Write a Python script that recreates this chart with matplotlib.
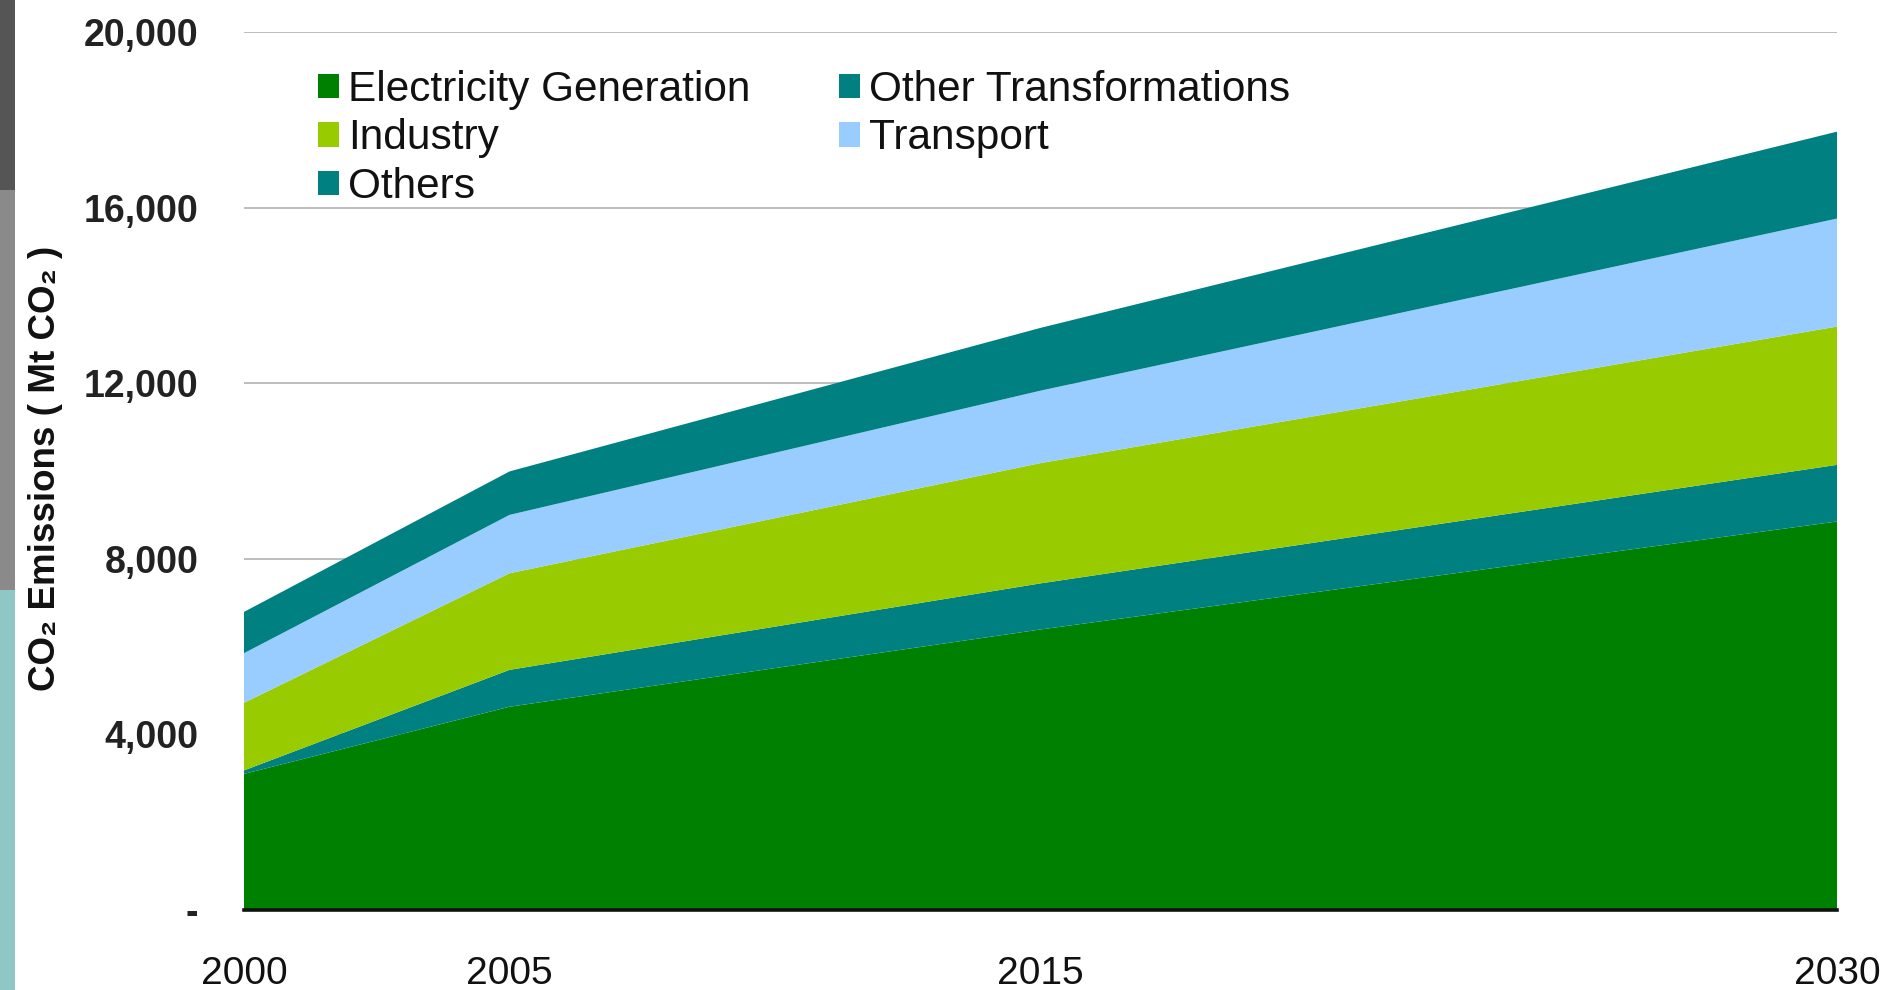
import matplotlib
matplotlib.use("Agg")
import matplotlib.pyplot as plt
from matplotlib.patches import Rectangle, Patch
from matplotlib.ticker import FixedLocator, FixedFormatter

# ---- data (Mt CO2) ----
years = [2000, 2005, 2015, 2030]
year_labels = ["2000", "2005", "2015", "2030"]
electricity = [3100, 4630, 6390, 8850]
other_transformations = [80, 840, 1050, 1290]
industry = [1540, 2200, 2740, 3150]
transport = [1130, 1330, 1650, 2460]
others = [940, 990, 1430, 1980]

series_names = ["Electricity Generation", "Other Transformations", "Industry", "Transport", "Others"]
series_colors = ["#008000", "#008080", "#99CC00", "#99CCFF", "#008080"]

y_ticks = [0, 4000, 8000, 12000, 16000, 20000]
y_tick_labels = ["-", "4,000", "8,000", "12,000", "16,000", "20,000"]

FAM = ["Liberation Sans", "DejaVu Sans"]
plt.rcParams["font.family"] = FAM

W, H = 1884, 990
fig = plt.figure(figsize=(W / 100, H / 100), dpi=100)
fig.patch.set_facecolor("white")

# decorative strip on the left edge
fig.patches.append(Rectangle((0, 0), 15 / W, 1, transform=fig.transFigure,
                             facecolor="#8fc6c6", edgecolor="none", zorder=0))
fig.patches.append(Rectangle((0, (H - 590) / H), 15 / W, 400 / H, transform=fig.transFigure,
                             facecolor="#8a8a8a", edgecolor="none", zorder=0))
fig.patches.append(Rectangle((0, (H - 190) / H), 15 / W, 190 / H, transform=fig.transFigure,
                             facecolor="#555555", edgecolor="none", zorder=0))

left, right = 244 / W, 1837 / W
bottom, top = (H - 910) / H, (H - 32) / H
ax = fig.add_axes([left, bottom, right - left, top - bottom])
ax.set_facecolor("white")

series = [electricity, other_transformations, industry, transport, others]
ax.stackplot(years, *series, colors=series_colors, linewidth=0, zorder=2)

ax.set_xlim(years[0], years[-1])
ax.set_ylim(0, 20000)

# gridlines
ax.yaxis.set_major_locator(FixedLocator(y_ticks))
ax.yaxis.set_major_formatter(FixedFormatter(y_tick_labels))
ax.grid(axis="y", color="#bdbdbd", linewidth=1.4, zorder=1)
ax.set_axisbelow(True)
ax.axhline(0, color="#111111", linewidth=2.6, zorder=3, clip_on=False)

for s in ax.spines.values():
    s.set_visible(False)

ax.set_xticks(years)
ax.set_xticklabels(year_labels)
ax.tick_params(axis="x", length=0, pad=33, labelsize=28, labelcolor="#111111")
ax.tick_params(axis="y", length=0, pad=33, labelsize=27, labelcolor="#222222")
for t in ax.get_yticklabels():
    t.set_fontweight("bold")

fig.text(46 / W, (H - 468) / H, "CO\u2082 Emissions ( Mt CO\u2082 )", rotation=90,
         ha="center", va="center", fontsize=26.5, fontweight="bold",
         color="#111111", family=FAM)

# legend
order = [0, 2, 4, 1, 3]
handles = [Patch(facecolor=series_colors[i], edgecolor="none") for i in order]
labels = [series_names[i] for i in order]
leg = ax.legend(handles, labels, ncol=2, frameon=False, loc="upper left",
                bbox_to_anchor=(318 / W, (H - 70) / H), bbox_transform=fig.transFigure,
                fontsize=30.5, handlelength=0.5, handleheight=0.5, handletextpad=0.2,
                labelspacing=0.2, columnspacing=2.1, borderaxespad=0, borderpad=0)
for t in leg.get_texts():
    t.set_color("#111111")

fig.savefig("out.png", dpi=100, facecolor="white")
